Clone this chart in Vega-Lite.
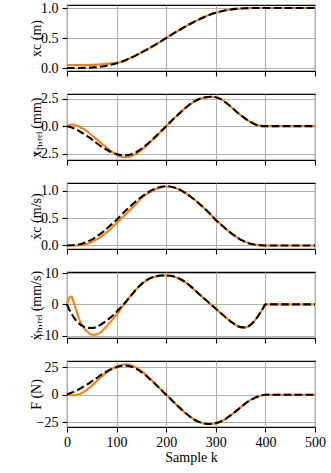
{
  "$schema": "https://vega.github.io/schema/vega-lite/v6.json",
  "background": "white",
  "padding": {"left": 28, "top": 0, "right": 4, "bottom": 4},
  "spacing": 23,
  "bounds": "flush",
  "data": {"values": [
    {"k":0,"xc":0,"xc_o":0.05,"xh":0,"xh_o":0,"vc":0,"vc_o":0,"vh":0,"vh_o":0,"F":0.3,"F_o":0},
    {"k":3,"vh_o":1.5},
    {"k":5,"xh_o":0.1,"vh":-1.8,"F_o":-0.3},
    {"k":6,"vh_o":2.4},
    {"k":8,"vh_o":2.5},
    {"k":10,"xc":0.0001,"xc_o":0.05,"xh":-0.12,"xh_o":0.15,"vc":0.003,"vc_o":-0.002,"vh":-3.2,"vh_o":2.2,"F":2.0,"F_o":-0.5},
    {"k":12,"vh_o":1.4},
    {"k":15,"xh_o":0.13,"vh":-4.5,"vh_o":0.0,"F_o":-0.5},
    {"k":20,"xc":0.0005,"xc_o":0.05,"xh":-0.33,"xh_o":0.05,"vc":0.012,"vc_o":0,"vh":-5.5,"vh_o":-2.6,"F":4.0,"F_o":-0.2},
    {"k":25,"xh_o":-0.05,"vh_o":-4.8,"F_o":0.5},
    {"k":30,"xc":0.0015,"xc_o":0.05,"xh":-0.6,"xh_o":-0.18,"vc":0.03,"vc_o":0.008,"vh":-6.8,"vh_o":-6.5,"F":6.5,"F_o":1.6},
    {"k":35,"vh_o":-7.7,"F_o":2.9},
    {"k":40,"xc":0.004,"xc_o":0.0505,"xh":-0.88,"xh_o":-0.45,"vc":0.065,"vc_o":0.025,"vh":-7.5,"vh_o":-8.6,"F":9.3,"F_o":4.5},
    {"k":45,"vh_o":-9.3},
    {"k":50,"xc":0.008,"xc_o":0.052,"xh":-1.2,"xh_o":-0.82,"vc":0.105,"vc_o":0.06,"vh":-7.6,"vh_o":-9.7,"F":12.3,"F_o":8.2},
    {"k":55,"vh_o":-9.8},
    {"k":60,"xc":0.015,"xc_o":0.056,"xh":-1.55,"xh_o":-1.2,"vc":0.165,"vc_o":0.11,"vh":-7.2,"vh_o":-9.6,"F":15.4,"F_o":12.5},
    {"k":70,"xc":0.025,"xc_o":0.062,"xh":-1.87,"xh_o":-1.58,"vc":0.23,"vc_o":0.17,"vh":-6.3,"vh_o":-8.7,"F":18.5,"F_o":16.6},
    {"k":80,"xc":0.039,"xc_o":0.069,"xh":-2.13,"xh_o":-1.95,"vc":0.305,"vc_o":0.24,"vh":-5.2,"vh_o":-7.0,"F":21.2,"F_o":20.4},
    {"k":90,"xc":0.057,"xc_o":0.077,"xh":-2.37,"xh_o":-2.3,"vc":0.385,"vc_o":0.32,"vh":-3.9,"vh_o":-5.2,"F":23.5,"F_o":23.5},
    {"k":100,"xc":0.079,"xc_o":0.086,"xh":-2.53,"xh_o":-2.6,"vc":0.465,"vc_o":0.405,"vh":-2.4,"vh_o":-3.3,"F":25.2,"F_o":25.8},
    {"k":110,"xc":0.105,"xc_o":0.106,"xh":-2.63,"xh_o":-2.78,"vc":0.56,"vc_o":0.495,"vh":-0.7,"vh_o":-1.1,"F":26.3,"F_o":27.3},
    {"k":120,"xc":0.138,"xc_o":0.139,"xh":-2.64,"xh_o":-2.82,"vc":0.65,"vc_o":0.585,"vh":1.1,"vh_o":1.0,"F":26.5,"F_o":27.8},
    {"k":130,"xc":0.175,"xc_o":0.176,"xh":-2.55,"xh_o":-2.72,"vc":0.735,"vc_o":0.675,"vh":3.0,"vh_o":3.1,"F":25.6,"F_o":27.0},
    {"k":140,"xc":0.215,"xc_o":0.215,"xh":-2.35,"xh_o":-2.5,"vc":0.815,"vc_o":0.765,"vh":4.9,"vh_o":4.9,"F":23.6,"F_o":24.9},
    {"k":150,"xc":0.258,"xc_o":0.258,"xh":-2.05,"xh_o":-2.17,"vc":0.885,"vc_o":0.86,"vh":6.5,"vh_o":6.4,"F":20.7,"F_o":21.8},
    {"k":160,"xc":0.303,"xc_o":0.303,"xh":-1.7,"xh_o":-1.78,"vc":0.95,"vc_o":0.93,"vh":7.8,"vh_o":7.6,"F":17.1,"F_o":18.0},
    {"k":170,"xc":0.35,"xc_o":0.35,"xh":-1.3,"xh_o":-1.35,"vc":1.005,"vc_o":0.985,"vh":8.6,"vh_o":8.5,"F":13.0,"F_o":13.7},
    {"k":180,"xc":0.399,"xc_o":0.399,"xh":-0.88,"xh_o":-0.93,"vc":1.045,"vc_o":1.03,"vh":9.05,"vh_o":9.0,"F":8.8,"F_o":9.2},
    {"k":190,"xc":0.449,"xc_o":0.449,"xh":-0.44,"xh_o":-0.47,"vc":1.072,"vc_o":1.06,"vh":9.28,"vh_o":9.25,"F":4.4,"F_o":4.6},
    {"k":200,"xc":0.5,"xc_o":0.5,"xh":0,"xh_o":-0.02,"vc":1.082,"vc_o":1.077,"vh":9.3,"vh_o":9.3,"F":0,"F_o":0.1},
    {"k":210,"xc":0.551,"xc_o":0.551,"xh":0.45,"xh_o":0.45,"vc":1.072,"vc_o":1.072,"vh":9.15,"vh_o":9.15,"F":-4.4,"F_o":-4.4},
    {"k":220,"xc":0.601,"xc_o":0.601,"xh":0.88,"xh_o":0.88,"vc":1.045,"vc_o":1.045,"vh":8.7,"vh_o":8.7,"F":-8.8,"F_o":-8.8},
    {"k":230,"xc":0.65,"xc_o":0.65,"xh":1.3,"xh_o":1.3,"vc":1.005,"vc_o":1.005,"vh":8.0,"vh_o":8.0,"F":-13.0,"F_o":-13.0},
    {"k":240,"xc":0.697,"xc_o":0.697,"xh":1.7,"xh_o":1.7,"vc":0.95,"vc_o":0.95,"vh":7.0,"vh_o":7.0,"F":-17.1,"F_o":-17.1},
    {"k":250,"xc":0.742,"xc_o":0.742,"xh":2.05,"xh_o":2.05,"vc":0.885,"vc_o":0.885,"vh":5.7,"vh_o":5.7,"F":-20.7,"F_o":-20.7},
    {"k":260,"xc":0.785,"xc_o":0.785,"xh":2.33,"xh_o":2.33,"vc":0.815,"vc_o":0.815,"vh":4.2,"vh_o":4.2,"F":-23.6,"F_o":-23.6},
    {"k":270,"xc":0.825,"xc_o":0.825,"xh":2.52,"xh_o":2.52,"vc":0.735,"vc_o":0.735,"vh":2.8,"vh_o":2.8,"F":-25.4,"F_o":-25.4},
    {"k":280,"xc":0.862,"xc_o":0.862,"xh":2.63,"xh_o":2.63,"vc":0.65,"vc_o":0.65,"vh":1.4,"vh_o":1.4,"F":-26.4,"F_o":-26.4},
    {"k":290,"xc":0.895,"xc_o":0.895,"xh":2.67,"xh_o":2.67,"vc":0.56,"vc_o":0.56,"vh":0.0,"vh_o":0.0,"F":-26.6,"F_o":-26.6},
    {"k":300,"xc":0.921,"xc_o":0.921,"xh":2.63,"xh_o":2.63,"vc":0.465,"vc_o":0.465,"vh":-1.4,"vh_o":-1.4,"F":-26.0,"F_o":-26.0},
    {"k":310,"xc":0.943,"xc_o":0.943,"xh":2.45,"xh_o":2.45,"vc":0.385,"vc_o":0.385,"vh":-2.8,"vh_o":-2.8,"F":-24.4,"F_o":-24.4},
    {"k":320,"xc":0.961,"xc_o":0.961,"xh":2.15,"xh_o":2.15,"vc":0.305,"vc_o":0.305,"vh":-4.2,"vh_o":-4.2,"F":-21.9,"F_o":-21.9},
    {"k":330,"xc":0.975,"xc_o":0.975,"xh":1.78,"xh_o":1.78,"vc":0.23,"vc_o":0.23,"vh":-5.5,"vh_o":-5.5,"F":-18.8,"F_o":-18.8},
    {"k":340,"xc":0.985,"xc_o":0.985,"xh":1.37,"xh_o":1.37,"vc":0.165,"vc_o":0.165,"vh":-6.6,"vh_o":-6.6,"F":-15.2,"F_o":-15.2},
    {"k":350,"xc":0.992,"xc_o":0.992,"xh":1.0,"xh_o":1.0,"vc":0.105,"vc_o":0.105,"vh":-7.3,"vh_o":-7.3,"F":-11.5,"F_o":-11.5},
    {"k":360,"xc":0.996,"xc_o":0.996,"xh":0.67,"xh_o":0.67,"vc":0.065,"vc_o":0.065,"vh":-7.4,"vh_o":-7.4,"F":-7.8,"F_o":-7.8},
    {"k":370,"xc":0.9985,"xc_o":0.9985,"xh":0.38,"xh_o":0.38,"vc":0.03,"vc_o":0.03,"vh":-6.6,"vh_o":-6.6,"F":-4.6,"F_o":-4.6},
    {"k":380,"xc":0.9995,"xc_o":0.9995,"xh":0.15,"xh_o":0.15,"vc":0.012,"vc_o":0.012,"vh":-4.9,"vh_o":-4.9,"F":-2.6,"F_o":-2.6},
    {"k":390,"xc":0.9999,"xc_o":0.9999,"xh":0.03,"xh_o":0.03,"vc":0.003,"vc_o":0.003,"vh":-2.6,"vh_o":-2.6,"F":-0.8,"F_o":-0.8},
    {"k":395,"vh":-1.3,"vh_o":-1.3},
    {"k":400,"xc":1,"xc_o":1,"xh":0,"xh_o":0,"vc":0,"vc_o":0,"vh":0,"vh_o":0,"F":0,"F_o":0},
    {"k":500,"xc":1,"xc_o":1,"xh":0,"xh_o":0,"vc":0,"vc_o":0,"vh":0,"vh_o":0,"F":0,"F_o":0}
  ]},
  "vconcat": [
    {
      "width": 248, "height": 66,
      "transform": [{"fold": ["xc_o", "xc"], "as": ["s", "v"]}, {"filter": "isValid(datum.v)"}],
      "encoding": {
        "x": {"field": "k", "type": "quantitative", "scale": {"domain": [0, 500], "nice": false}, "axis": {"values": [0,100,200,300,400,500], "labels": false, "title": null}},
        "y": {"field": "v", "type": "quantitative", "scale": {"domain": [-0.05, 1.05], "nice": false, "zero": false}, "axis": {"values": [0, 0.5, 1], "format": ".1f", "title": "xc (m)"}}
      },
      "layer": [
        {"transform": [{"filter": "datum.s === 'xc_o'"}], "mark": {"type": "line", "color": "#ff7f0e", "strokeWidth": 2.1, "interpolate": "monotone", "invalid": "filter"}},
        {"transform": [{"filter": "datum.s === 'xc'"}], "mark": {"type": "line", "color": "black", "strokeWidth": 2.1, "strokeDash": [7.7, 3.3], "interpolate": "monotone", "invalid": "filter"}}
      ]
    },
    {
      "width": 248, "height": 66,
      "transform": [{"fold": ["xh_o", "xh"], "as": ["s", "v"]}, {"filter": "isValid(datum.v)"}],
      "encoding": {
        "x": {"field": "k", "type": "quantitative", "scale": {"domain": [0, 500], "nice": false}, "axis": {"values": [0,100,200,300,400,500], "labels": false, "title": null}},
        "y": {"field": "v", "type": "quantitative", "scale": {"domain": [-3.07, 2.92], "nice": false, "zero": false}, "axis": {"values": [-2.5, 0, 2.5], "format": ".1f", "title": "xₕ,ᵣₑₗ (mm)"}}
      },
      "layer": [
        {"transform": [{"filter": "datum.s === 'xh_o'"}], "mark": {"type": "line", "color": "#ff7f0e", "strokeWidth": 2.1, "interpolate": "monotone", "invalid": "filter"}},
        {"transform": [{"filter": "datum.s === 'xh'"}], "mark": {"type": "line", "color": "black", "strokeWidth": 2.1, "strokeDash": [7.7, 3.3], "interpolate": "monotone", "invalid": "filter"}}
      ]
    },
    {
      "width": 248, "height": 66,
      "transform": [{"fold": ["vc_o", "vc"], "as": ["s", "v"]}, {"filter": "isValid(datum.v)"}],
      "encoding": {
        "x": {"field": "k", "type": "quantitative", "scale": {"domain": [0, 500], "nice": false}, "axis": {"values": [0,100,200,300,400,500], "labels": false, "title": null}},
        "y": {"field": "v", "type": "quantitative", "scale": {"domain": [-0.065, 1.14], "nice": false, "zero": false}, "axis": {"values": [0, 0.5, 1], "format": ".1f", "title": "ẋc (m/s)"}}
      },
      "layer": [
        {"transform": [{"filter": "datum.s === 'vc_o'"}], "mark": {"type": "line", "color": "#ff7f0e", "strokeWidth": 2.1, "interpolate": "monotone", "invalid": "filter"}},
        {"transform": [{"filter": "datum.s === 'vc'"}], "mark": {"type": "line", "color": "black", "strokeWidth": 2.1, "strokeDash": [7.7, 3.3], "interpolate": "monotone", "invalid": "filter"}}
      ]
    },
    {
      "width": 248, "height": 66,
      "transform": [{"fold": ["vh_o", "vh"], "as": ["s", "v"]}, {"filter": "isValid(datum.v)"}],
      "encoding": {
        "x": {"field": "k", "type": "quantitative", "scale": {"domain": [0, 500], "nice": false}, "axis": {"values": [0,100,200,300,400,500], "labels": false, "title": null}},
        "y": {"field": "v", "type": "quantitative", "scale": {"domain": [-10.8, 10.4], "nice": false, "zero": false}, "axis": {"values": [-10, 0, 10], "format": "d", "title": "ẋₕ,ᵣₑₗ (mm/s)"}}
      },
      "layer": [
        {"transform": [{"filter": "datum.s === 'vh_o'"}], "mark": {"type": "line", "color": "#ff7f0e", "strokeWidth": 2.1, "interpolate": "monotone", "invalid": "filter"}},
        {"transform": [{"filter": "datum.s === 'vh'"}], "mark": {"type": "line", "color": "black", "strokeWidth": 2.1, "strokeDash": [7.7, 3.3], "interpolate": "monotone", "invalid": "filter"}}
      ]
    },
    {
      "width": 248, "height": 66,
      "transform": [{"fold": ["F_o", "F"], "as": ["s", "v"]}, {"filter": "isValid(datum.v)"}],
      "encoding": {
        "x": {"field": "k", "type": "quantitative", "scale": {"domain": [0, 500], "nice": false}, "axis": {"values": [0,100,200,300,400,500], "format": "d", "title": "Sample k", "titlePadding": 1, "labelPadding": 3}},
        "y": {"field": "v", "type": "quantitative", "scale": {"domain": [-29.4, 30.8], "nice": false, "zero": false}, "axis": {"values": [-25, 0, 25], "format": "d", "title": "F (N)"}}
      },
      "layer": [
        {"transform": [{"filter": "datum.s === 'F_o'"}], "mark": {"type": "line", "color": "#ff7f0e", "strokeWidth": 2.1, "interpolate": "monotone", "invalid": "filter"}},
        {"transform": [{"filter": "datum.s === 'F'"}], "mark": {"type": "line", "color": "black", "strokeWidth": 2.1, "strokeDash": [7.7, 3.3], "interpolate": "monotone", "invalid": "filter"}}
      ]
    }
  ],
  "config": {
    "view": {"stroke": "black", "strokeWidth": 1.1},
    "axis": {
      "grid": true, "gridColor": "#b0b0b0", "gridWidth": 1.1,
      "domain": false,
      "ticks": true, "tickColor": "black", "tickWidth": 1.1, "tickSize": 5,
      "labelPadding": 4, "labelFont": "Liberation Serif", "labelFontSize": 14, "labelColor": "black",
      "labelFlush": false, "labelOverlap": false,
      "titleFont": "Liberation Serif", "titleFontSize": 14, "titleFontWeight": "normal", "titleColor": "black"
    },
    "axisY": {"titleX": -31, "titleY": 33, "titleAngle": 270, "titleBaseline": "middle", "titleAlign": "center"}
  }
}
